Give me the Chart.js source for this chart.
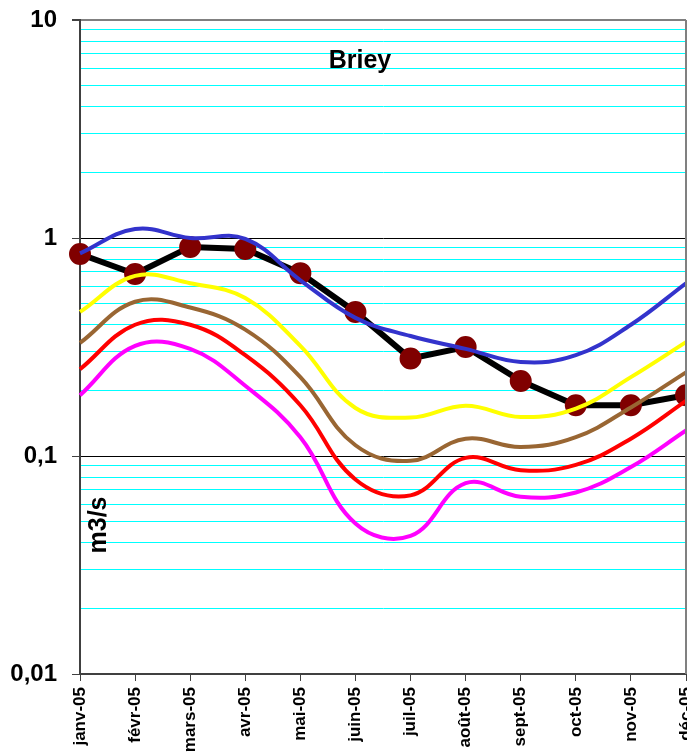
<!DOCTYPE html>
<html>
<head>
<meta charset="utf-8">
<script src="https://cdn.jsdelivr.net/npm/chart.js@4/dist/chart.umd.min.js"></script>
<style>
  html, body { margin: 0; padding: 0; background: #fff; }
  #wrap { width: 687px; height: 756px; }
</style>
</head>
<body>
<div id="wrap"><canvas id="myChart"></canvas></div>
<script>
// months 2005
const months = ['janv-05', 'févr-05', 'mars-05', 'avr-05', 'mai-05', 'juin-05',
                'juil-05', 'août-05', 'sept-05', 'oct-05', 'nov-05', 'déc-05'];

// measured flow 2005 (black line with dots)
const debit2005 = [0.845, 0.684, 0.91, 0.89, 0.69, 0.458, 0.28, 0.316, 0.221, 0.171, 0.171, 0.19];

// reference curves (smoothed)
const courbeBleue  = [0.85, 1.1, 1.0, 0.99, 0.64, 0.43, 0.355, 0.31, 0.27, 0.29, 0.40, 0.62];
const courbeJaune  = [0.458, 0.67, 0.62, 0.53, 0.32, 0.166, 0.15, 0.17, 0.151, 0.165, 0.23, 0.333];
const courbeMarron = [0.33, 0.51, 0.48, 0.38, 0.23, 0.112, 0.095, 0.12, 0.11, 0.122, 0.167, 0.242];
const courbeRouge  = [0.25, 0.40, 0.40, 0.29, 0.171, 0.078, 0.066, 0.098, 0.086, 0.091, 0.12, 0.179];
const courbeRose   = [0.19, 0.32, 0.31, 0.21, 0.122, 0.049, 0.043, 0.075, 0.065, 0.068, 0.089, 0.131];

// y axis ticks (log scale, labels only on decades)
const yTickValues = [0.01, 0.02, 0.03, 0.04, 0.05, 0.06, 0.07, 0.08, 0.09,
                     0.1, 0.2, 0.3, 0.4, 0.5, 0.6, 0.7, 0.8, 0.9,
                     1, 2, 3, 4, 5, 6, 7, 8, 9, 10];
const yMajorLabels = { '0.01': '0,01', '0.1': '0,1', '1': '1', '10': '10' };

const FONT = 'Liberation Sans, Arial, sans-serif';

function isMajor(v) {
    const l = Math.log10(v);
    return Math.abs(l - Math.round(l)) < 1e-6;
}

function smoothLine(label, data, color) {
    return {
        label: label,
        data: data,
        borderColor: color,
        backgroundColor: color,
        borderWidth: 4,
        pointRadius: 0,
        tension: 0.4,
        fill: false
    };
}

const decorPlugin = {
    id: 'decor',
    afterDraw(chart) {
        const c = chart.ctx;
        const a = chart.chartArea;
        c.save();
        // right border
        c.strokeStyle = '#808080';
        c.lineWidth = 2;
        c.beginPath();
        c.moveTo(a.right, a.top);
        c.lineTo(a.right, a.bottom);
        c.stroke();
        // title inside the plot
        c.fillStyle = '#000';
        c.font = 'bold 25px ' + FONT;
        c.textAlign = 'center';
        c.textBaseline = 'middle';
        c.fillText('Briey', 360, 61);
        // axis title inside the plot
        c.translate(99, 525);
        c.rotate(-Math.PI / 2);
        c.font = 'bold 25px ' + FONT;
        c.fillText('m3/s', 0, 0);
        c.restore();
    }
};

const ctx = document.getElementById('myChart').getContext('2d');

new Chart(ctx, {
    type: 'line',
    data: {
        labels: months,
        datasets: [
            smoothLine('courbe bleue', courbeBleue, '#3333CC'),
            smoothLine('courbe jaune', courbeJaune, '#FFFF00'),
            smoothLine('courbe marron', courbeMarron, '#996633'),
            smoothLine('courbe rouge', courbeRouge, '#FF0000'),
            smoothLine('courbe rose', courbeRose, '#FF00FF'),
            {
                label: 'Débit 2005',
                data: debit2005,
                borderColor: '#000000',
                backgroundColor: '#800000',
                pointBackgroundColor: '#800000',
                pointBorderColor: '#800000',
                borderWidth: 6,
                pointRadius: 8,
                tension: 0,
                clip: false
            }
        ]
    },
    options: {
        responsive: true,
        maintainAspectRatio: false,
        animation: false,
        layout: { autoPadding: false, padding: { top: 20, right: 1, left: 0, bottom: 0 } },
        plugins: {
            legend: { display: false },
            tooltip: { enabled: false }
        },
        scales: {
            x: {
                offset: false,
                grid: {
                    drawOnChartArea: false,
                    drawTicks: true,
                    tickLength: 7,
                    tickColor: '#404040'
                },
                border: { color: '#404040', width: 2 },
                ticks: {
                    autoSkip: false,
                    minRotation: 90,
                    maxRotation: 90,
                    padding: 6,
                    color: '#000',
                    font: { family: FONT, size: 17, weight: 'bold' }
                },
                afterFit(scale) {
                    scale.height = 82;
                    scale.paddingLeft = 0;
                    scale.paddingRight = 0;
                }
            },
            y: {
                type: 'logarithmic',
                min: 0.01,
                max: 10,
                afterBuildTicks(scale) {
                    scale.ticks = yTickValues.map(v => ({ value: v, major: isMajor(v) }));
                },
                afterFit(scale) {
                    scale.width = 80;
                    scale.paddingTop = 0;
                    scale.paddingBottom = 0;
                },
                grid: {
                    color: (c) => {
                        if (!c.tick) return '#00FFFF';
                        if (c.tick.value === 10) return '#808080';
                        return isMajor(c.tick.value) ? '#000000' : '#00FFFF';
                    },
                    lineWidth: (c) => (c.tick && c.tick.value === 10) ? 2 : 1,
                    tickLength: 8,
                    tickColor: (c) => (c.tick && isMajor(c.tick.value)) ? '#404040' : 'rgba(0,0,0,0)'
                },
                border: { color: '#404040', width: 2 },
                ticks: {
                    autoSkip: false,
                    padding: 15,
                    color: '#000',
                    font: { family: FONT, size: 24, weight: 'bold' },
                    callback: (v) => yMajorLabels[String(v)] || ''
                }
            }
        }
    },
    plugins: [decorPlugin]
});
</script>
</body>
</html>
